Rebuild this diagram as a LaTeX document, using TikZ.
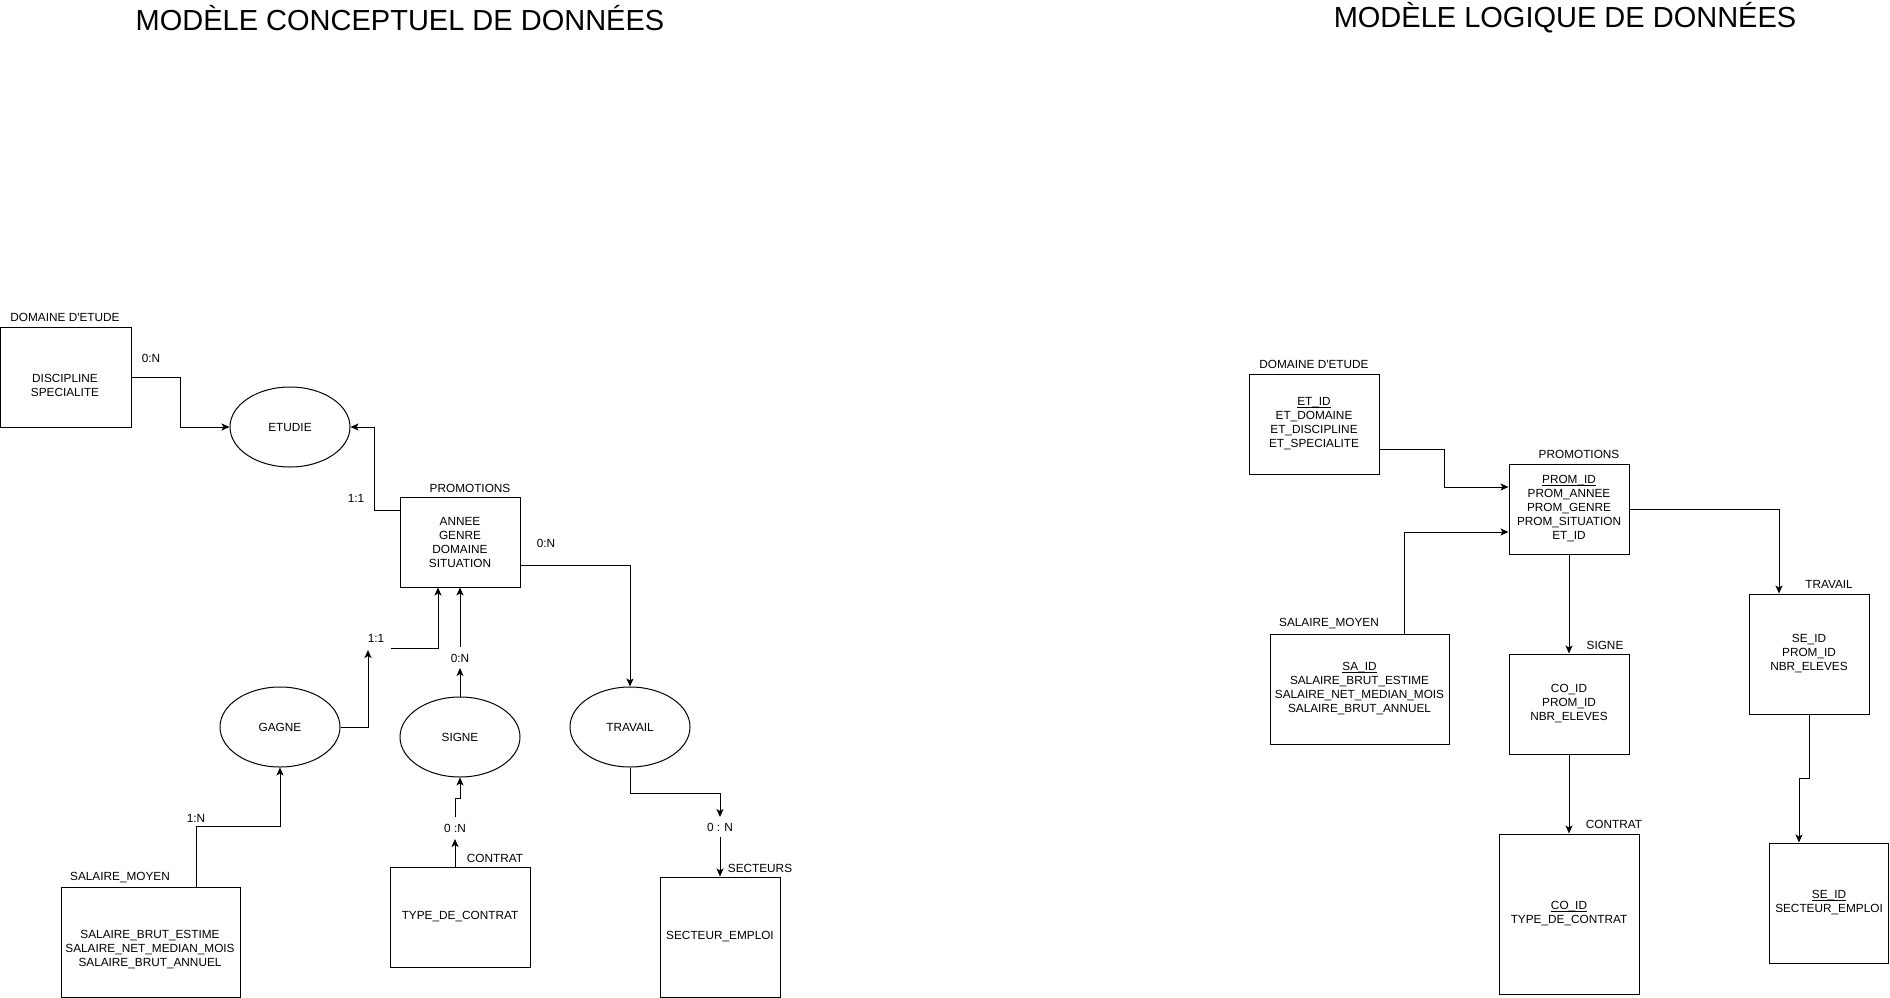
\documentclass[tikz,border=0pt]{standalone}
\usepackage{fontspec}
\newfontfamily\lsans{Liberation Sans}
\usetikzlibrary{arrows.meta,shapes.geometric}
\newcommand\keyul[1]{\mbox{\vphantom{E}\underline{\smash{#1}}}}
\begin{document}
\begin{tikzpicture}[x=1pt,y=-1pt,
  ent/.style={draw,line width=1pt,rectangle,inner sep=0pt,align=center,font=\lsans\fontsize{11.8}{14}\selectfont},
  rel/.style={draw,ellipse,line width=1pt,minimum width=120pt,minimum height=80pt,inner sep=0pt,font=\lsans\fontsize{11.8}{14}\selectfont},
  txt/.style={inner sep=0pt,align=center,font=\lsans\fontsize{11.8}{14}\selectfont},
  lbl/.style={inner sep=0pt,font=\lsans\fontsize{11.8}{14}\selectfont},
  ttl/.style={inner sep=0pt,font=\lsans\fontsize{29}{34}\selectfont},
  conn/.style={line width=1pt,-{Stealth[length=8pt,width=7pt,inset=2pt]}},
  seg/.style={line width=1pt}]
\useasboundingbox (0,0) rectangle (1890,998);
\fill[white] (0,0) rectangle (1890,998);

% titles
\node[ttl] (t1) at (400,18) {MODÈLE CONCEPTUEL DE DONNÉES};
\node[ttl] (t2) at (1565,18) {MODÈLE LOGIQUE DE DONNÉES};

% ===== MCD =====
\node[ent,minimum width=130.5pt,minimum height=100pt] (dom) at (65.75,377) {};
\node[txt] (domt) at (65,385) {DISCIPLINE\\SPECIALITE};
\node[lbl] (doml) at (65,317) {DOMAINE D'ETUDE};

\node[rel] (etudie) at (290,427) {ETUDIE};

\node[ent,minimum width=120pt,minimum height=90pt] (prom) at (460,542) {ANNEE\\GENRE\\DOMAINE\\SITUATION};
\node[lbl] (proml) at (470,488) {PROMOTIONS};

\node[rel] (gagne) at (280,727) {GAGNE};
\node[rel] (signe) at (460,737) {SIGNE};
\node[rel] (travail) at (630,727) {TRAVAIL};

\node[ent,minimum width=179pt,minimum height=110pt] (sal) at (150.5,942) {};
\node[txt] (salt) at (150,950) {SALAIRE\_BRUT\_ESTIME\\SALAIRE\_NET\_MEDIAN\_MOIS\\SALAIRE\_BRUT\_ANNUEL};
\node[lbl] (sall) at (120,878) {SALAIRE\_MOYEN};

\node[ent,minimum width=140pt,minimum height=100pt] (contrat) at (460,917) {TYPE\_DE\_CONTRAT};
\node[lbl] (contratl) at (495,858) {CONTRAT};

\node[ent,minimum width=120pt,minimum height=120pt] (sect) at (720,937) {SECTEUR\_EMPLOI};
\node[lbl] (sectl) at (760,868) {SECTEURS};

% cardinality labels
\node[lbl] (c1) at (151,358) {0:N};
\node[lbl] (c2) at (356,498) {1:1};
\node[lbl] (c3) at (546,543) {0:N};
\node[lbl] (c4) at (376,638) {1:1};
\node[lbl] (c5) at (460,658) {0:N};
\node[lbl] (c6) at (196,818) {1:N};
\node[lbl] (c7) at (455,828) {0 :N};
\node[lbl] (c8) at (720,827) {0 : N};

% connectors MCD
\draw[conn] (dom.east) -- ++(49,0) |- (etudie.west);
\draw[conn] ([yshift=32pt]prom.west) -- ++(-25,0) |- (etudie.east);
\draw[conn] ([yshift=-23pt]prom.east) -| (travail.north);

\coordinate (g1) at (368,650);
\coordinate (g2) at (391,648);
\draw[conn] (gagne.east) -| (g1);
\draw[conn] (g2) -| ([xshift=-22pt]prom.south);

\coordinate (s1) at (460,668);
\coordinate (s2) at (460,647);
\draw[conn] (signe.north) -- (s1);
\draw[conn] (s2) -- (prom.south);

\draw[conn] ([xshift=45.5pt]sal.north) -- ++(0,-60) -| (gagne.south);

\coordinate (k1) at (455,839);
\coordinate (k2) at (455,817);
\draw[conn] ([xshift=-5pt]contrat.north) -- (k1);
\draw[conn] (k2) -- (455,798) -| (signe.south);

\coordinate (w1) at (720,817);
\coordinate (w2) at (720,837);
\draw[conn] (travail.south) -- ++(0,26) -| (w1);
\draw[conn] (w2) -- (sect.north);

% ===== MLD =====
\node[ent,minimum width=130pt,minimum height=100pt] (dom2) at (1314,424) {\keyul{ET\_ID}\\ET\_DOMAINE\\ET\_DISCIPLINE\\ET\_SPECIALITE};
\node[lbl] (dom2l) at (1314,364) {DOMAINE D'ETUDE};

\node[ent,minimum width=120pt,minimum height=90pt] (prom2) at (1569,509) {\keyul{PROM\_ID}\\PROM\_ANNEE\\PROM\_GENRE\\PROM\_SITUATION\\ET\_ID};
\node[lbl] (prom2l) at (1579,454) {PROMOTIONS};

\node[ent,minimum width=179pt,minimum height=110pt] (sal2) at (1359.5,689) {\keyul{SA\_ID}\\SALAIRE\_BRUT\_ESTIME\\SALAIRE\_NET\_MEDIAN\_MOIS\\SALAIRE\_BRUT\_ANNUEL};
\node[lbl] (sal2l) at (1329,624) {SALAIRE\_MOYEN};

\node[ent,minimum width=120pt,minimum height=100pt] (signe2) at (1569,704) {CO\_ID\\PROM\_ID\\NBR\_ELEVES};
\node[lbl] (signe2l) at (1605,645) {SIGNE};

\node[ent,minimum width=140pt,minimum height=160pt] (contrat2) at (1569,914) {\keyul{CO\_ID}\\TYPE\_DE\_CONTRAT};
\node[lbl] (contrat2l) at (1614,824) {CONTRAT};

\node[ent,minimum width=120pt,minimum height=120pt] (trav2) at (1809,654) {SE\_ID\\PROM\_ID\\NBR\_ELEVES};
\node[lbl] (trav2l) at (1829,584) {TRAVAIL};

\node[ent,minimum width=119pt,minimum height=120pt] (sect2) at (1829,903) {\keyul{SE\_ID}\\SECTEUR\_EMPLOI};

% connectors MLD
\draw[conn] ([yshift=-25pt]dom2.east) -- ++(65,0) |- ([yshift=22pt]prom2.west);
\draw[conn] ([xshift=44.5pt]sal2.north) |- ([yshift=-23pt]prom2.west);
\draw[conn] (prom2.south) -- (signe2.north);
\draw[conn] (signe2.south) -- (contrat2.north);
\draw[conn] (prom2.east) -| ([xshift=-30pt]trav2.north);
\draw[conn] (trav2.south) -- ++(0,64) -| ([xshift=-30pt]sect2.north);
\end{tikzpicture}
\end{document}
